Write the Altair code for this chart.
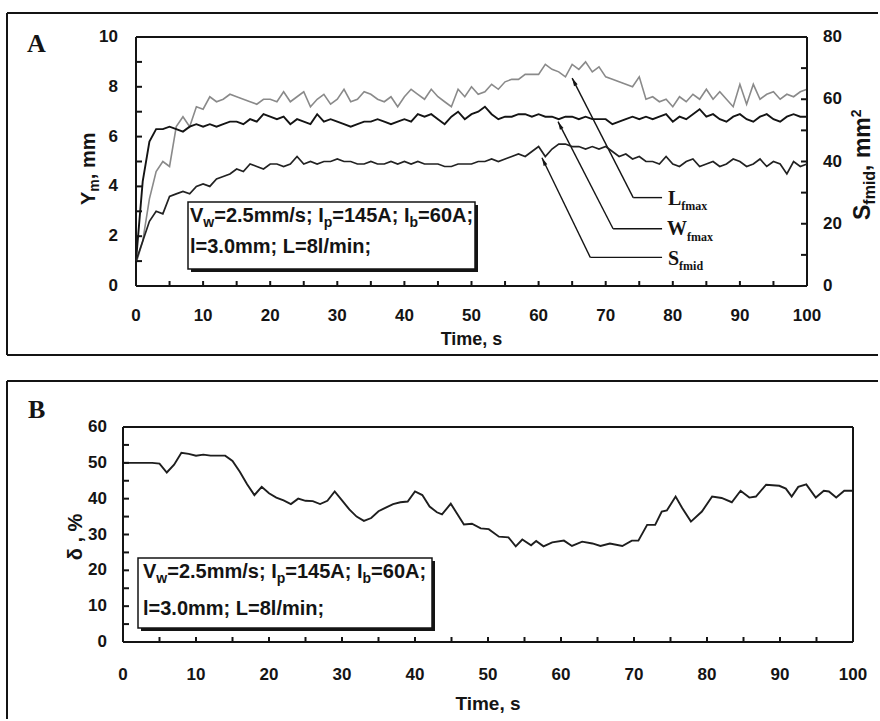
import math
import altair as alt
import pandas as pd

# ---------------- data ----------------
TIME_A = list(range(0, 101))
L_FMAX = [0.9, 1.8, 3.5, 4.6, 5.0, 4.8, 6.4, 6.8, 6.4, 7.2,
          7.1, 7.6, 7.4, 7.5, 7.7, 7.6, 7.5, 7.4, 7.3, 7.5,
          7.5, 7.4, 7.8, 7.4, 7.6, 7.8, 7.2, 7.5, 7.7, 7.3,
          7.5, 7.9, 7.4, 7.5, 7.8, 7.7, 7.5, 7.4, 7.6, 7.2,
          7.6, 7.9, 7.7, 7.5, 7.9, 7.6, 7.4, 7.2, 7.9, 7.6,
          8.0, 7.7, 7.8, 8.1, 7.9, 8.2, 8.3, 8.3, 8.5, 8.5,
          8.5, 8.9, 8.7, 8.6, 8.4, 8.9, 8.7, 9.0, 8.6, 8.8,
          8.4, 8.3, 8.2, 8.1, 8.0, 8.4, 7.5, 7.6, 7.4, 7.5,
          7.2, 7.6, 7.4, 7.7, 7.5, 7.9, 7.5, 7.8, 7.5, 7.2,
          8.1, 7.3, 8.1, 7.5, 7.7, 7.8, 7.5, 7.7, 7.6, 7.8,
          7.9]
W_FMAX = [1.0, 4.2, 5.8, 6.3, 6.3, 6.4, 6.3, 6.2, 6.4, 6.5,
          6.4, 6.5, 6.4, 6.5, 6.6, 6.6, 6.5, 6.7, 6.6, 6.9,
          6.8, 6.7, 6.8, 6.5, 6.7, 6.6, 6.5, 6.9, 6.6, 6.7,
          6.6, 6.5, 6.4, 6.5, 6.6, 6.6, 6.7, 6.6, 6.5, 6.6,
          6.7, 6.6, 6.9, 6.8, 6.9, 6.7, 6.5, 6.8, 7.0, 6.7,
          6.9, 7.0, 7.2, 6.9, 6.7, 6.8, 6.8, 6.9, 6.9, 6.8,
          6.9, 6.8, 6.8, 6.7, 6.8, 6.8, 6.7, 6.8, 6.7, 6.7,
          6.7, 6.5, 6.6, 6.7, 6.8, 6.7, 6.8, 6.7, 6.8, 6.9,
          6.6, 6.8, 6.7, 6.9, 7.1, 6.8, 6.9, 6.7, 6.6, 6.8,
          6.9, 6.7, 6.6, 6.8, 6.9, 6.7, 6.6, 6.8, 6.9, 6.8,
          6.8]
S_FMID = [8.0, 14.4, 20.8, 24.0, 23.2, 28.8, 29.6, 30.4, 29.6, 32.0,
          32.8, 32.0, 34.4, 35.2, 36.0, 37.6, 36.8, 39.2, 38.4, 37.6,
          39.2, 39.2, 38.4, 39.2, 41.6, 39.2, 40.0, 39.2, 40.0, 40.0,
          40.8, 40.0, 40.0, 39.2, 39.2, 40.0, 39.2, 39.2, 40.0, 39.2,
          40.0, 39.2, 40.0, 39.2, 39.2, 39.2, 38.4, 38.4, 39.2, 39.2,
          39.2, 40.0, 40.0, 40.8, 40.0, 40.8, 41.6, 42.4, 41.6, 43.2,
          44.8, 41.6, 44.0, 45.6, 45.6, 44.8, 44.8, 44.0, 44.8, 44.0,
          44.8, 43.2, 41.6, 42.4, 40.8, 41.6, 40.0, 40.0, 39.2, 41.6,
          39.2, 38.4, 40.0, 40.8, 38.4, 39.2, 40.0, 38.4, 39.2, 40.8,
          40.0, 38.4, 39.2, 40.8, 38.4, 40.0, 39.2, 36.0, 40.0, 38.4,
          39.2]

TIME_B = [0, 2, 4, 5, 6, 7, 8, 9, 10, 11,
          12, 13, 14, 15, 16, 17, 18, 19, 20, 21, 22, 23, 24, 25, 26, 27,
          28, 29, 30, 31, 32, 33, 34, 35, 36, 37, 38, 39, 40, 41, 42, 43,
          43.7, 44.9, 46.7, 47.8, 49, 50.1, 51.5, 52.8, 53.8, 54.7,
          55.9, 56.6, 57.6, 58.8, 60.4, 61.5, 62.9, 64.3, 65.4, 66.7,
          68.4, 69.7, 70.6, 71.8, 72.9, 73.8, 74.5, 75.7, 76.6, 77.8,
          79.3, 80.7, 82, 83.4, 84.6, 85.8, 86.7, 88.1, 89.9, 90.8,
          91.6, 92.5, 93.6, 94.9, 96, 96.7, 97.7, 98.8, 100]
DELTA = [50, 50, 50, 49.8, 47.3, 49.5, 52.8, 52.5, 52, 52.3,
         52, 52, 52, 50.5, 47.5, 44, 41, 43.3, 41.5, 40.3, 39.5, 38.5, 40, 39.4, 39.3, 38.5,
         39.4, 42, 39.5, 37, 35, 33.8, 34.6, 36.5, 37.5, 38.5, 39, 39.2, 42, 41, 37.8, 36.2,
         35.6, 38.6, 32.8, 33, 31.7, 31.5, 29.4, 29.2, 26.7, 28.6,
         27, 28.2, 26.7, 27.8, 28.3, 26.8, 28, 27.5, 26.8, 27.5,
         26.8, 28.3, 28.3, 32.7, 32.7, 36.4, 36.7, 40.6, 37.4, 33.6,
         36.4, 40.6, 40.2, 39, 42.2, 40.3, 40.6, 43.9, 43.6, 42.8,
         40.6, 43.3, 44, 40.3, 42.2, 42, 40.3, 42.2, 42.2]

# axis labels / ticks
A_X_LABELS = list(range(0, 101, 10))
A_X_TICKS = list(range(5, 100, 5))
A_Y_LABELS = [0, 2, 4, 6, 8, 10]
A_Y_TICKS = list(range(1, 10))
A_R_LABELS = [0, 20, 40, 60, 80]
A_R_TICKS = list(range(10, 80, 10))
B_X_LABELS = list(range(0, 101, 10))
B_X_TICKS = list(range(5, 100, 5))
B_Y_LABELS = list(range(0, 61, 10))
B_Y_TICKS = list(range(5, 60, 5))

# annotation arrows (data coordinates, panel A left axis)
ANN_TIP_T = [65.0, 62.9, 60.5]
ANN_TIP_V = [8.35, 6.6, 5.15]
ANN_BEND_T = [74.1, 71.1, 67.7]
ANN_BEND_V = [3.55, 2.3, 1.15]
ANN_END_T = [78.4, 78.4, 78.4]

INK = "#141414"
SANS = "Liberation Sans"
SERIF = "Liberation Serif"

ARIAL_B = {' ': 278, ',': 278, '.': 278, '/': 278, ';': 333, '=': 584, 'A': 722, 'I': 278,
           'L': 611, 'V': 667, 'S': 667, 'Y': 667, 'b': 611, 'd': 611, 'f': 333, 'i': 278,
           'l': 278, 'm': 889, 'n': 611, 'p': 611, 's': 556, 'w': 778, 'a': 556, 'x': 556}
TIMES_B = {'L': 667, 'W': 1000, 'S': 556, 'f': 333, 'm': 833, 'a': 500, 'x': 500, 'i': 278, 'd': 556}

ONE = pd.DataFrame({"k": [0]})


def tw(s, size, table):
    return sum(table.get(c, 556) for c in s) * size / 1000.0


def txt(s, x, y, size, font=SANS, weight="bold", angle=0, align="left", baseline="alphabetic"):
    kw = dict(text=s, fontSize=size, font=font, fontWeight=weight, align=align,
              baseline=baseline, color=INK)
    if angle:
        kw["angle"] = angle
    return alt.Chart(ONE).mark_text(**kw).encode(x=alt.value(x), y=alt.value(y))


def run(pieces, x, y, table, font=SANS, angle=0):
    out = []
    pos = x if angle == 0 else y
    for s, size, shift in pieces:
        if angle == 0:
            out.append(txt(s, pos, y + shift, size, font=font))
            pos += tw(s, size, table)
        else:
            out.append(txt(s, x + shift, pos, size, font=font, angle=270))
            pos -= tw(s, size, table)
    return out


def hline(x1, x2, y, w=2):
    return alt.Chart(ONE).mark_rule(color=INK, strokeWidth=w).encode(
        x=alt.value(x1), x2=alt.value(x2), y=alt.value(y))


def vline(x, y1, y2, w=2):
    return alt.Chart(ONE).mark_rule(color=INK, strokeWidth=w).encode(
        x=alt.value(x), y=alt.value(y1), y2=alt.value(y2))


def border(w, h):
    return [hline(0, w, 0), hline(0, w, h), vline(0, 0, h), vline(w, 0, h)]


def box(x1, y1, x2, y2):
    shadow = alt.Chart(ONE).mark_rect(fill=INK).encode(
        x=alt.value(x1 + 3), x2=alt.value(x2 + 3), y=alt.value(y1 + 3), y2=alt.value(y2 + 3))
    face = alt.Chart(ONE).mark_rect(fill="white", stroke=INK, strokeWidth=1.5).encode(
        x=alt.value(x1), x2=alt.value(x2), y=alt.value(y1), y2=alt.value(y2))
    return [shadow, face]


def legend_lines(x, y1, y2):
    p1 = [("V", 20, 0), ("w", 14, 5), ("=2.5mm/s; ", 20, 0), ("I", 20, 0), ("p", 14, 5),
          ("=145A; ", 20, 0), ("I", 20, 0), ("b", 14, 5), ("=60A;", 20, 0)]
    return run(p1, x, y1, ARIAL_B) + [txt("l=3.0mm; L=8l/min;", x, y2, 20)]


LABEL_STYLE = dict(font=SANS, fontWeight="bold", fontSize=17, color=INK)


def xlabels(vals, scale, y):
    return alt.Chart(pd.DataFrame({"t": vals})).mark_text(
        baseline="alphabetic", align="center", **LABEL_STYLE).encode(
        x=alt.X("t:Q", scale=scale, axis=None), y=alt.value(y),
        text=alt.Text("t:Q", format="d"))


def ylabels(vals, scale, x, align):
    return alt.Chart(pd.DataFrame({"v": vals})).mark_text(
        baseline="middle", align=align, **LABEL_STYLE).encode(
        y=alt.Y("v:Q", scale=scale, axis=None), x=alt.value(x),
        text=alt.Text("v:Q", format="d"))


def yticks(vals, scale, x1, x2):
    return alt.Chart(pd.DataFrame({"v": vals})).mark_rule(color=INK, strokeWidth=2).encode(
        y=alt.Y("v:Q", scale=scale, axis=None), x=alt.value(x1), x2=alt.value(x2))


def xticks(vals, scale, y1, y2):
    return alt.Chart(pd.DataFrame({"t": vals})).mark_rule(color=INK, strokeWidth=2).encode(
        x=alt.X("t:Q", scale=scale, axis=None), y=alt.value(y1), y2=alt.value(y2))


# ---------------- panel A ----------------
WA, HA = 671, 249
dfA = pd.DataFrame({"t": TIME_A, "L": L_FMAX, "W": W_FMAX, "S": S_FMID})
xsA = alt.Scale(domain=[0, 100], nice=False, zero=False)
ysA = alt.Scale(domain=[0, 10], nice=False)
rsA = alt.Scale(domain=[0, 80], nice=False)

lineL = alt.Chart(dfA).mark_line(color="#8a8a8a", strokeWidth=1.6).encode(
    x=alt.X("t:Q", scale=xsA, axis=None), y=alt.Y("L:Q", scale=ysA, axis=None))
lineW = alt.Chart(dfA).mark_line(color=INK, strokeWidth=1.9).encode(
    x=alt.X("t:Q", scale=xsA, axis=None), y=alt.Y("W:Q", scale=ysA, axis=None))

# annotation arrows
ang = []
for tt, tv, bt, bv in zip(ANN_TIP_T, ANN_TIP_V, ANN_BEND_T, ANN_BEND_V):
    dx = (tt - bt) * WA / 100.0
    dy = -(tv - bv) * HA / 10.0
    ang.append(math.degrees(math.atan2(dx, -dy)) % 360)
dfAnn = pd.DataFrame({"tip_t": ANN_TIP_T, "tip_v": ANN_TIP_V, "bend_t": ANN_BEND_T,
                      "bend_v": ANN_BEND_V, "end_t": ANN_END_T, "ang": ang})
seg1 = alt.Chart(dfAnn).mark_rule(color=INK, strokeWidth=1.4).encode(
    x=alt.X("tip_t:Q", scale=xsA, axis=None), y=alt.Y("tip_v:Q", scale=ysA, axis=None),
    x2="bend_t:Q", y2="bend_v:Q")
seg2 = alt.Chart(dfAnn).mark_rule(color=INK, strokeWidth=1.4).encode(
    x=alt.X("bend_t:Q", scale=xsA, axis=None), y=alt.Y("bend_v:Q", scale=ysA, axis=None),
    x2="end_t:Q")
heads = alt.Chart(dfAnn).mark_point(
    shape="M0,0L-0.45,1.8L0.45,1.8Z", filled=True, size=80, color=INK, opacity=1).encode(
    x=alt.X("tip_t:Q", scale=xsA, axis=None), y=alt.Y("tip_v:Q", scale=ysA, axis=None),
    angle=alt.Angle("ang:Q", scale=None))

ann_text = []
ann_text += run([("L", 20, 0), ("fmax", 12, 5)], 532, 168, TIMES_B, font=SERIF)
ann_text += run([("W", 20, 0), ("fmax", 12, 6)], 531, 198, TIMES_B, font=SERIF)
ann_text += run([("S", 20, 0), ("fmid", 12, 5)], 532, 228, TIMES_B, font=SERIF)

frameA = [vline(-129, -24, 318), hline(-129, 742, -24), hline(-129, 742, 318)]
titlesA = (run([("Y", 20, 0), ("m", 14, 4), (", mm", 20, 0)], -41, 168, ARIAL_B, angle=270)
           + run([("S", 23, 0), ("fmid", 16, 5), (", mm", 23, 0), ("2", 14, -9)],
                 734, 183, ARIAL_B, angle=270))

groupLeft = alt.layer(
    *frameA, lineL, lineW,
    yticks(A_Y_TICKS, ysA, 0, 6), xticks(A_X_TICKS, xsA, HA, HA - 5),
    ylabels(A_Y_LABELS, ysA, -18, "right"), xlabels(A_X_LABELS, xsA, 284),
    txt("Time, s", WA / 2, 308, 18, align="center"),
    seg1, seg2, heads,
    *box(52, 165, 339, 232), *legend_lines(54, 185, 216), *ann_text, *titlesA,
    txt("A", -109, 15, 26, font=SERIF), *border(WA, HA))

lineS = alt.Chart(dfA).mark_line(color="#222222", strokeWidth=1.7).encode(
    x=alt.X("t:Q", scale=xsA, axis=None), y=alt.Y("S:Q", scale=rsA, axis=None))
groupRight = alt.layer(lineS, yticks(A_R_TICKS, rsA, WA, WA - 6),
                       ylabels(A_R_LABELS, rsA, WA + 16, "left"))

panelA = alt.layer(groupLeft, groupRight).resolve_scale(y="independent").properties(
    width=WA, height=HA)

# ---------------- panel B ----------------
WB, HB = 730, 215
dfB = pd.DataFrame({"t": TIME_B, "d": DELTA})
xsB = alt.Scale(domain=[0, 100], nice=False, zero=False)
ysB = alt.Scale(domain=[0, 60], nice=False)

lineD = alt.Chart(dfB).mark_line(color="#1e1e1e", strokeWidth=1.9).encode(
    x=alt.X("t:Q", scale=xsB, axis=None), y=alt.Y("d:Q", scale=ysB, axis=None))

frameB = [vline(-116, -46, 292), hline(-116, 755, -46)]
panelB = alt.layer(
    *frameB, lineD,
    yticks(B_Y_TICKS, ysB, 0, 6), xticks(B_X_TICKS, xsB, HB, HB - 5),
    ylabels(B_Y_LABELS, ysB, -16, "right"), xlabels(B_X_LABELS, xsB, 253),
    txt("Time, s", WB / 2, 283, 19, align="center"),
    *box(15, 131, 309, 201), *legend_lines(20, 151, 188),
    txt("δ , %", -47, 110, 20, angle=270, align="center", baseline="middle"),
    txt("B", -95, -9, 26, font=SERIF), *border(WB, HB)).properties(width=WB, height=HB)

spacer = alt.Chart(ONE).mark_point(opacity=0, size=1).encode(
    x=alt.value(0), y=alt.value(0)).properties(width=13, height=10)
rowA = alt.hconcat(spacer, panelA, spacing=0, bounds="flush")

# the nested row counts as zero height in a flush layout, so the spacing
# carries panel A's plot height plus the gap between the panels
chart = alt.vconcat(rowA, panelB, spacing=390, bounds="flush").properties(
    padding={"left": 6, "top": 12, "right": 0, "bottom": 0}, background="white"
).configure_view(strokeWidth=0)

chart.save("out.html", embed_options={"renderer": "svg", "actions": False})
